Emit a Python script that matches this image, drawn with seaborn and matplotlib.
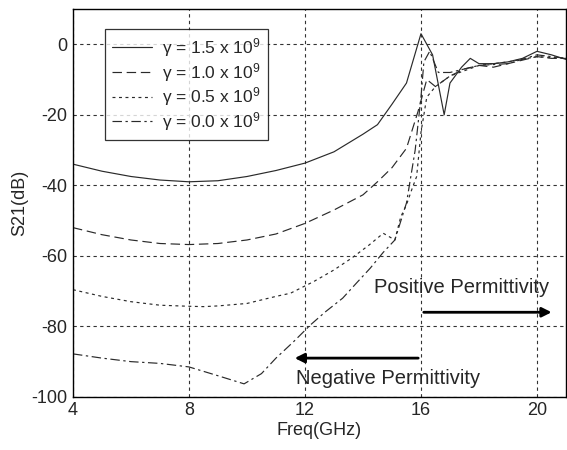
import numpy as np
import pandas as pd
import matplotlib
matplotlib.use("Agg")
import matplotlib.pyplot as plt
import seaborn as sns

freq_15 = [4, 5, 6, 7, 8, 9, 10, 11, 12, 13, 13.5, 14, 14.5, 15, 15.5, 16.0, 16.4, 16.8,
           17.0, 17.4, 17.7, 18.0, 18.5, 19, 19.5, 20, 20.5, 21]
s21_15 = [-34, -36, -37.5, -38.5, -39, -38.7, -37.5, -35.8, -33.7, -30.5, -28, -25.5, -22.8, -17, -11,
          3, -3, -20, -11, -6.5, -4, -5.5, -5.5, -5, -4, -2, -3, -4.3]

freq_10 = [4, 5, 6, 7, 8, 9, 10, 11, 12, 13, 14, 14.5, 15, 15.5, 15.9, 16.2, 16.5,
           17, 17.5, 18, 18.5, 19, 19.5, 20, 20.5, 21]
s21_10 = [-52, -54, -55.5, -56.5, -56.8, -56.5, -55.5, -53.8, -50.8, -47, -42.7, -39, -35, -29.5,
          -19, -10, -12, -9, -7, -6, -6.5, -5.5, -4.5, -3.5, -4, -4]

freq_05 = [4, 5, 6, 7, 8, 8.5, 9, 10, 11, 11.5, 12.3, 13, 13.6, 14.2, 14.7, 15.1, 15.3, 15.5,
           15.7, 15.85, 16.0, 16.2, 16.5, 17, 17.5, 18, 19, 20, 21]
s21_05 = [-69.6, -71.5, -73, -74, -74.3, -74.4, -74.2, -73.5, -71.5, -70.6, -67.3, -64, -60.7,
          -57, -53.6, -55.5, -49, -45.5, -40.8, -37.5, -25, -15, -12, -9, -7.5, -6, -5, -3.5, -4]

freq_00 = [4, 5, 6, 7, 8, 9, 9.9, 10.5, 11, 11.6, 12.2, 12.7, 13.3, 13.8, 14.25, 14.7, 15.1,
           15.5, 15.8, 16.0, 16.1, 16.3, 16.6, 17, 17.5, 18, 19, 20, 21]
s21_00 = [-87.8, -89, -90, -90.5, -91.5, -94, -96.3, -93.4, -89, -84.4, -79.5, -75.9, -72, -67.5,
          -63.5, -59, -55.5, -45, -30, -15, -5, -2, -8, -8, -7, -6, -5.5, -3, -4]

labels = ["γ = 1.5 x 10$^9$", "γ = 1.0 x 10$^9$",
          "γ = 0.5 x 10$^9$", "γ = 0.0 x 10$^9$"]
x_ticks = [4, 8, 12, 16, 20]
y_ticks = [0, -20, -40, -60, -80, -100]

sns.set_theme(style="white")
plt.rcParams["font.family"] = ["Liberation Sans", "DejaVu Sans"]
plt.rcParams["mathtext.fontset"] = "custom"
plt.rcParams["mathtext.rm"] = "Liberation Sans"
plt.rcParams["mathtext.it"] = "Liberation Sans:italic"
plt.rcParams["axes.unicode_minus"] = False

fig = plt.figure(figsize=(5.67, 4.5), dpi=100)
ax = fig.add_axes([0.1287, 0.118, 0.8695, 0.862])

series = [(freq_15, s21_15, "-"),
          (freq_10, s21_10, (0, (8, 4))),
          (freq_05, s21_05, (0, (2.5, 3))),
          (freq_00, s21_00, (0, (8, 3, 2, 3)))]
for (f, s, ls), lab in zip(series, labels):
    sns.lineplot(x=f, y=s, ax=ax, color="#2a2a2a", lw=0.85, linestyle=ls,
                 label=lab, sort=False, estimator=None)

ax.set_xlim(4, 21)
ax.set_ylim(-100, 10)
ax.set_xticks(x_ticks)
ax.set_yticks(y_ticks)
ax.grid(True, color="#333333", linestyle=(0, (3, 3)), lw=0.8)
ax.tick_params(direction="in", length=3, labelsize=13, pad=4)
for sp in ax.spines.values():
    sp.set_color("black")
    sp.set_linewidth(1.0)
ax.set_xlabel("Freq(GHz)", fontsize=13, labelpad=2)
ax.set_ylabel("S21(dB)", fontsize=13, labelpad=2)

leg = ax.legend(loc="upper left", bbox_to_anchor=(0.065, 0.948), borderaxespad=0,
                fontsize=12.5, frameon=True, fancybox=False, handlelength=2.3,
                handletextpad=0.6, labelspacing=0.1, borderpad=0.4)
leg.get_frame().set_edgecolor("black")
leg.get_frame().set_linewidth(0.9)

# permittivity region annotations
ax.annotate("", xy=(20.6, -76), xytext=(16, -76),
            arrowprops=dict(arrowstyle="-|>", color="black", lw=2, mutation_scale=14))
ax.text(17.4, -69, "Positive Permittivity", fontsize=14.5, ha="center", va="center")
ax.annotate("", xy=(11.55, -89), xytext=(16, -89),
            arrowprops=dict(arrowstyle="-|>", color="black", lw=2, mutation_scale=14))
ax.text(14.85, -94.8, "Negative Permittivity", fontsize=14.5, ha="center", va="center")

fig.savefig("out.png", dpi=100)
